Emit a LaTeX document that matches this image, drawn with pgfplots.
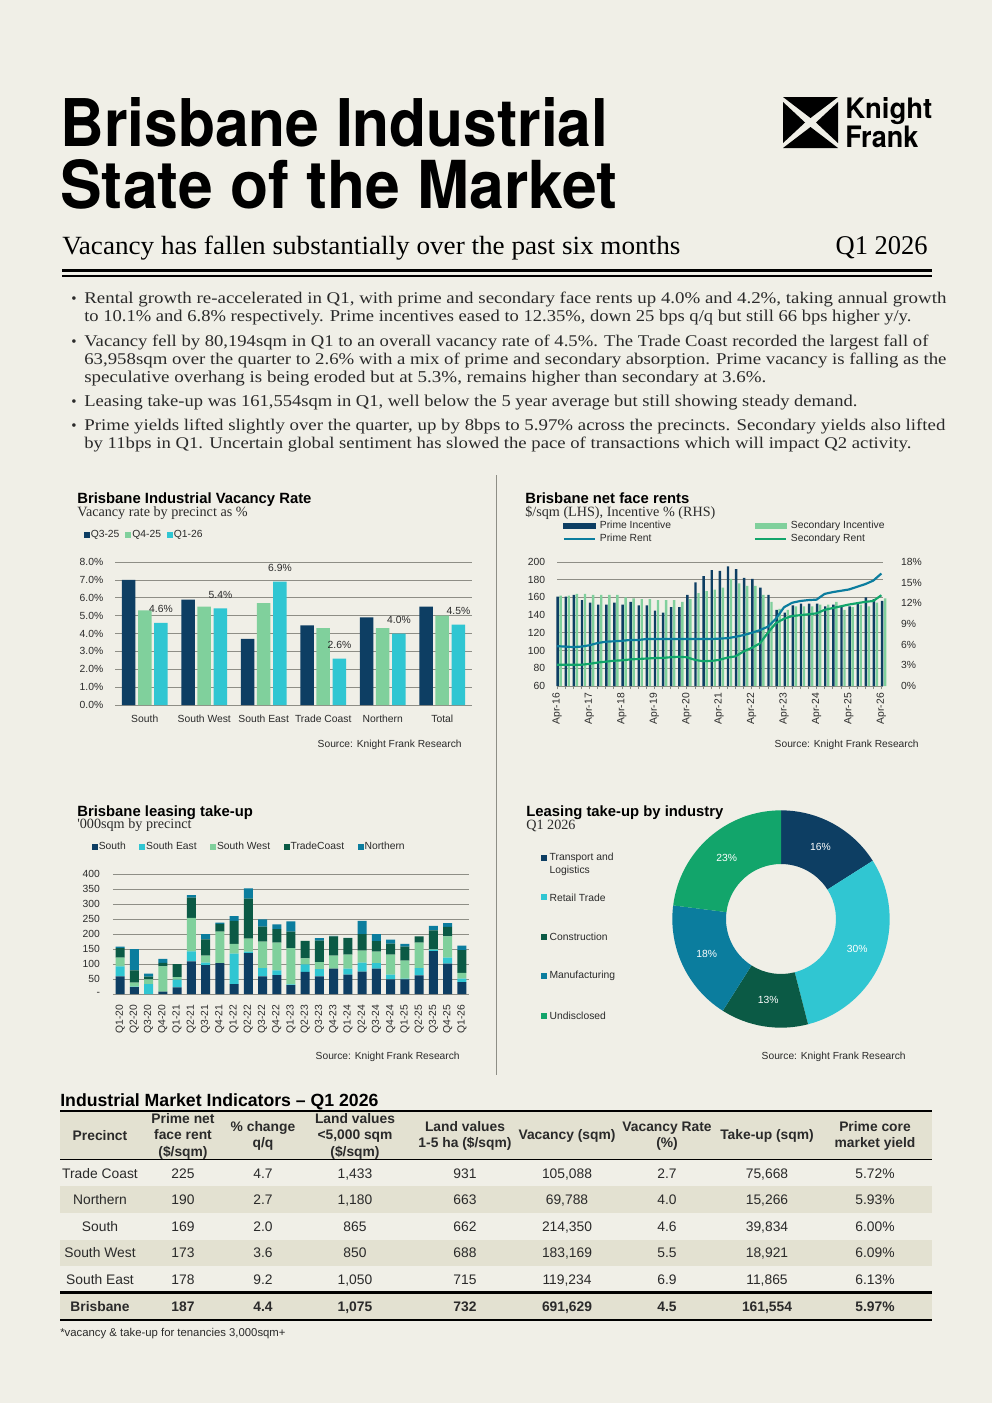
\documentclass[border=0pt]{standalone}
\usepackage{fontspec}
\setmainfont{Liberation Sans}
\newfontfamily\serif{Liberation Serif}
\newfontfamily\heros{TeX Gyre Heros}
\usepackage{graphicx}
\usepackage{pgfplots}
\usepackage{pgfplotstable}
\pgfplotsset{compat=1.18}

\definecolor{bg}{HTML}{F0EFE7}
\definecolor{navy}{HTML}{0D3E63}
\definecolor{lgreen}{HTML}{80D09C}
\definecolor{cyan2}{HTML}{30C6D2}
\definecolor{dgreen}{HTML}{0B5A45}
\definecolor{teal2}{HTML}{0B7D9E}
\definecolor{green2}{HTML}{12A56B}
\definecolor{gridc}{HTML}{8E8E86}
\definecolor{rowsh}{HTML}{E3E1D1}
\definecolor{txt}{HTML}{2A2A2A}

\newlength\pxu\setlength\pxu{0.6pt}
\newcommand\fitt[3]{\resizebox{#1\pxu}{#2\pxu}{#3}}
\newcommand\smallf{\fontsize{6.2}{7.4}\selectfont}
\newcommand\srcf{\fontsize{6.15}{7.4}\selectfont}
\newcommand\ctitle{\fontsize{8.9}{10.5}\selectfont\bfseries}
\newcommand\csub{\serif\fontsize{8.5}{10}\selectfont}
\newcommand\tabf{\fontsize{8.3}{9.9}\selectfont}
\newcommand\bodyf{\serif\fontsize{10}{12}\selectfont}

\pgfplotstableread{
q pi si pr sr
0 12.99 13.11 105 84
1 12.99 13.11 104.5 84
2 13.24 13.37 104 84
3 12.47 13.37 104.5 84
4 12.09 13.24 106 85
5 11.83 13.24 108.5 86.5
6 11.83 13.24 110 87.5
7 12.09 13.24 110.5 88.5
8 11.83 12.86 111 89
9 12.21 12.73 112 90
10 11.70 12.60 112 90.5
11 11.70 12.60 113 91
12 10.93 12.47 113 91.5
13 10.67 12.47 113 91.7
14 11.44 12.47 113 92.5
15 11.44 12.21 113 93
16 13.24 12.60 113 92.5
17 15.04 13.50 113 89.5
18 15.94 13.76 113 88
19 16.84 14.01 113 88.3
20 16.71 14.27 113.5 89.5
21 17.36 15.56 114 92
22 16.97 14.91 115.5 93.5
23 15.69 14.53 117.5 99
24 15.56 14.53 120 103
25 14.27 13.24 123 108
26 13.24 12.21 127 120
27 11.06 11.19 136 131
28 10.67 11.06 149 136
29 11.70 11.57 154 139
30 11.96 11.57 156 140
31 11.96 11.57 157 141
32 11.96 11.83 157.5 142
33 11.57 11.83 164 146
34 11.83 12.21 166 148
35 11.57 11.06 167.5 150
36 11.57 11.44 169 152
37 11.96 11.83 172 153.5
38 12.86 11.57 175 155
39 12.60 12.09 179 156
40 12.35 12.73 187 162.5
}\rents

\pgfplotstableread{
q S SE SW TC N
0 59 33 29 32 5
1 23 2 13 41 71
2 0 33 16 9 10
3 8 0 84 12 13
4 22 26 8 44 0
5 109 33 112 67 9
6 96 9 23 54 18
7 103 0 105 26 4
8 33 102 32 77 16
9 136 5 44 133 34
10 59 27 89 50 24
11 63 16 92 45 16
12 30 2 121 55 34
13 74 25 20 58 0
14 59 24 23 72 8
15 85 0 43 64 2
16 65 20 46 55 1
17 75 30 40 55 44
18 85 18 38 35 24
19 49 16 66 37 13
20 49 2 60 47 9
21 62 24 85 21 0
22 143 5 2 62 15
23 101 20 71 32 12
24 39.8 11.9 18.9 75.7 15.3
}\takeup

\pgfplotsset{
  kfbase/.style={
    scale only axis,
    axis line style={draw=none},
    xtick style={draw=none}, ytick style={draw=none},
    ticklabel style={font=\smallf, text=txt},
    /pgf/number format/assume math mode=true,
    grid style={gridc, line width=0.75\pxu},
    legend cell align=left,
    legend style={draw=none, fill=none, font=\smallf, text=txt, inner sep=0pt, outer sep=0pt,
      nodes={inner sep=0.6pt}},
  },
  sqleg/.style={legend image code/.code={\fill[##1, draw=none] (0pt,-1.7pt) rectangle (3.5pt,1.7pt);}},
}

\newcommand\seg[3]{\fill[#1] ([shift={({90-3.6*(#2)}:65.2pt)}]c) arc[start angle={90-3.6*(#2)}, end angle={90-3.6*(#2+#3)}, radius=65.2pt] -- ([shift={({90-3.6*(#2+#3)}:33pt)}]c) arc[start angle={90-3.6*(#2+#3)}, end angle={90-3.6*(#2)}, radius=33pt] -- cycle;}
\newcommand\seglab[3]{\node[text=white, font=\smallf] at ([shift={({90-3.6*(#1+#2/2)}:49.2pt)}]c) {#3};}

\def\ty{0}
\newcommand\trow[9]{%
  \node[anchor=base] at (100,\ty) {#1};
  \node[anchor=base] at (183,\ty) {#2};
  \node[anchor=base] at (263,\ty) {#3};
  \node[anchor=base] at (355,\ty) {#4};
  \node[anchor=base] at (465,\ty) {#5};
  \node[anchor=base] at (567,\ty) {#6};
  \node[anchor=base] at (667,\ty) {#7};
  \node[anchor=base] at (767,\ty) {#8};
  \node[anchor=base] at (875,\ty) {#9};}

\begin{document}
\begin{tikzpicture}
\useasboundingbox (0,0) rectangle (595.2pt,-841.8pt);
\fill[bg] (0,0) rectangle (595.2pt,-841.8pt);

% ---------------- Vacancy rate chart
\begin{axis}[kfbase, at={(69pt,-423pt)}, anchor=south west, width=214.2pt, height=85.8pt,
  ymin=0, ymax=8, ytick={0,...,8}, ymajorgrids,
  yticklabel={\pgfmathprintnumber[fixed,fixed zerofill,precision=1]{\tick}\%},
  xmin=-0.5, xmax=5.5, xtick={0,...,5},
  xticklabels={South,South West,South East,Trade Coast,Northern,Total},
  xticklabel shift=-2pt, yticklabel shift=3.5pt,
  ybar=1.62pt, bar width=8.1pt,
  legend columns=3,
  legend style={at={(-0.087,1.189)}, anchor=west,
    /tikz/every even column/.append style={column sep=3pt}},
]
\addplot[fill=navy, draw=none, sqleg] coordinates {(0,7.0) (1,5.9) (2,3.7) (3,4.45) (4,4.9) (5,5.5)};
\addlegendentry{Q3-25}
\addplot[fill=lgreen, draw=none, sqleg] coordinates {(0,5.3) (1,5.5) (2,5.7) (3,4.3) (4,4.3) (5,5.0)};
\addlegendentry{Q4-25}
\addplot[fill=cyan2, draw=none, sqleg, nodes near coords,
  nodes near coords style={font=\smallf, text=txt, yshift=2.5pt},
  point meta=explicit symbolic] coordinates {(0,4.6)[4.6\%] (1,5.4)[5.4\%] (2,6.9)[6.9\%] (3,2.6)[2.6\%] (4,4.0)[4.0\%] (5,4.5)[4.5\%]};
\addlegendentry{Q1-26}
\end{axis}

% ---------------- Net face rents: incentive bars (RHS)
\begin{axis}[kfbase, at={(334.2pt,-411.6pt)}, anchor=south west, width=195.6pt, height=74.4pt,
  clip=false,
  xmin=0, xmax=40.2, ymin=0, ymax=18,
  ytick={0,3,...,18}, yticklabel pos=right,
  yticklabel={\pgfmathprintnumber{\tick}\%}, yticklabel shift=5.5pt,
  extra y ticks={0,2.5714,5.1429,7.7143,10.2857,12.8571,15.4286,18},
  extra y tick labels={}, extra y tick style={grid=major, ytick style={draw=none}},
  xtick={0,4,...,40},
  xticklabels={Apr-16,Apr-17,Apr-18,Apr-19,Apr-20,Apr-21,Apr-22,Apr-23,Apr-24,Apr-25,Apr-26},
  minor xtick={0,...,40},
  xtick style={draw=gridc, line width=0.6\pxu}, minor x tick style={draw=gridc, line width=0.6\pxu},
  tick align=outside, xtick pos=left, major tick length=3\pxu, minor tick length=3\pxu,
  xticklabel style={rotate=90, anchor=east}, xticklabel shift=-1pt,
]
\addplot[ybar, fill=navy, draw=none, bar width=1.45pt, bar shift=0.4pt] table[x=q,y=pi]{\rents};
\addplot[ybar, fill=lgreen, draw=none, bar width=1.45pt, bar shift=2.2pt] table[x=q,y=si]{\rents};
\end{axis}

% ---------------- Net face rents: rent lines (LHS)
\begin{axis}[kfbase, at={(334.2pt,-411.6pt)}, anchor=south west, width=195.6pt, height=74.4pt,
  xmin=0, xmax=40.2, ymin=60, ymax=200,
  ytick={60,80,...,200}, yticklabel pos=left, yticklabel shift=3.6pt,
  xtick=\empty,
  legend columns=2,
  legend style={at={(0.0175,1.341)}, anchor=north west,
    /tikz/every odd column/.append style={column sep=1.6pt},
    /tikz/every even column/.append style={column sep=49pt},
    /tikz/row sep=0.7pt},
]
\addlegendimage{legend image code/.code={\fill[navy] (0pt,-1.5pt) rectangle (18.8pt,1.5pt);}}
\addlegendentry{Prime Incentive}
\addlegendimage{legend image code/.code={\fill[lgreen] (0pt,-1.5pt) rectangle (18.8pt,1.5pt);}}
\addlegendentry{Secondary Incentive}
\addplot[teal2, line width=1.3pt, line join=round,
  legend image code/.code={\draw[teal2, line width=1.3pt] (0pt,0pt) -- (18.8pt,0pt);}] table[x=q,y=pr]{\rents};
\addlegendentry{Prime Rent}
\addplot[green2, line width=1.3pt, line join=round,
  legend image code/.code={\draw[green2, line width=1.3pt] (0pt,0pt) -- (18.8pt,0pt);}] table[x=q,y=sr]{\rents};
\addlegendentry{Secondary Rent}
\end{axis}

% ---------------- Leasing take-up
\begin{axis}[kfbase, at={(67.8pt,-596.4pt)}, anchor=south west, width=213.6pt, height=72pt,
  ymin=0, ymax=400, ytick={0,50,...,400}, yticklabels={-,50,100,150,200,250,300,350,400},
  ymajorgrids, yticklabel shift=4.3pt,
  xmin=-0.5, xmax=24.5, xtick={0,...,24},
  xticklabels={Q1-20,Q2-20,Q3-20,Q4-20,Q1-21,Q2-21,Q3-21,Q4-21,Q1-22,Q2-22,Q3-22,Q4-22,Q1-23,Q2-23,Q3-23,Q4-23,Q1-24,Q2-24,Q3-24,Q4-24,Q1-25,Q2-25,Q3-25,Q4-25,Q1-26},
  xticklabel style={rotate=90, anchor=east}, xticklabel shift=3pt,
  ybar stacked, bar width=5.4pt,
  legend columns=5,
  legend style={at={(-0.059,1.2275)}, anchor=west,
    /tikz/every even column/.append style={column sep=7.5pt}},
]
\addplot[fill=navy, draw=none, sqleg] table[x=q,y=S]{\takeup};
\addlegendentry{South}
\addplot[fill=cyan2, draw=none, sqleg] table[x=q,y=SE]{\takeup};
\addlegendentry{South East}
\addplot[fill=lgreen, draw=none, sqleg] table[x=q,y=SW]{\takeup};
\addlegendentry{South West}
\addplot[fill=dgreen, draw=none, sqleg] table[x=q,y=TC]{\takeup};
\addlegendentry{TradeCoast}
\addplot[fill=teal2, draw=none, sqleg] table[x=q,y=N]{\takeup};
\addlegendentry{Northern}
\end{axis}

% ---------------- Donut
\begin{axis}[at={(468.6pt,-551.4pt)}, anchor=center, width=130.8pt, height=130.8pt,
  scale only axis, hide axis, xmin=-1, xmax=1, ymin=-1, ymax=1, clip=false]
\addplot[draw=none] coordinates {(0,0)};
\coordinate (c) at (axis cs:0,0);
\seg{navy}{0}{16}
\seg{cyan2}{16}{30}
\seg{dgreen}{46}{13}
\seg{teal2}{59}{18}
\seg{green2}{77}{23}
\seglab{0}{16}{16\%}
\seglab{16}{30}{30\%}
\seglab{46}{13}{13\%}
\seglab{59}{18}{18\%}
\seglab{77}{23}{23\%}
\end{axis}

\begin{scope}[x=0.6pt,y=-0.6pt]
% ---------- Header
\node[anchor=base west, inner sep=0] at (60,146) {\fitt{548}{49}{\heros\bfseries Brisbane Industrial}};
\node[anchor=base west, inner sep=0] at (60,208) {\fitt{557}{49}{\heros\bfseries State of the Market}};
\node[anchor=base west, inner sep=0] at (62,254) {\fitt{618}{18.5}{\serif Vacancy has fallen substantially over the past six months}};
\node[anchor=base east, inner sep=0] at (928,254) {\fitt{92}{18}{\serif Q1 2026}};
\draw[black, line width=2.6\pxu] (62,270.5) -- (932,270.5);
\draw[black, line width=2.2\pxu] (62,275.8) -- (932,275.8);
% logo
\fill[black] (783,97) -- (838,97) -- (810.5,118) -- cycle;
\fill[black] (783,148) -- (838,148) -- (810.5,127) -- cycle;
\fill[black] (783,102) -- (783,143) -- (805,122.5) -- cycle;
\fill[black] (838,102) -- (838,143) -- (816,122.5) -- cycle;
\node[anchor=base west, inner sep=0] at (845,118) {\fitt{87}{21}{\heros\bfseries Knight}};
\node[anchor=base west, inner sep=0] at (845,147) {\fitt{73}{21.5}{\heros\bfseries Frank}};

% ---------- Bullets
\foreach \yy in {303,346,406,430} {\node[anchor=base west, inner sep=0, text=txt] at (71,\yy) {\serif\fontsize{9}{10}\selectfont\textbullet};}
\node[anchor=base west, inner sep=0, text=txt] at (84,303) {\fitt{862}{11.5}{\bodyf Rental growth re-accelerated in Q1, with prime and secondary face rents up 4.0\% and 4.2\%, taking annual growth}};
\node[anchor=base west, inner sep=0, text=txt] at (84,321) {\fitt{827}{11.5}{\bodyf to 10.1\% and 6.8\% respectively. Prime incentives eased to 12.35\%, down 25 bps q/q but still 66 bps higher y/y.}};
\node[anchor=base west, inner sep=0, text=txt] at (84,346) {\fitt{844}{11.5}{\bodyf Vacancy fell by 80,194sqm in Q1 to an overall vacancy rate of 4.5\%. The Trade Coast recorded the largest fall of}};
\node[anchor=base west, inner sep=0, text=txt] at (84,364) {\fitt{862}{11.5}{\bodyf 63,958sqm over the quarter to 2.6\% with a mix of prime and secondary absorption. Prime vacancy is falling as the}};
\node[anchor=base west, inner sep=0, text=txt] at (84,382) {\fitt{682}{11.5}{\bodyf speculative overhang is being eroded but at 5.3\%, remains higher than secondary at 3.6\%.}};
\node[anchor=base west, inner sep=0, text=txt] at (84,406) {\fitt{773}{11.5}{\bodyf Leasing take-up was 161,554sqm in Q1, well below the 5 year average but still showing steady demand.}};
\node[anchor=base west, inner sep=0, text=txt] at (84,430) {\fitt{861}{11.5}{\bodyf Prime yields lifted slightly over the quarter, up by 8bps to 5.97\% across the precincts. Secondary yields also lifted}};
\node[anchor=base west, inner sep=0, text=txt] at (84,448) {\fitt{827}{11.5}{\bodyf by 11bps in Q1. Uncertain global sentiment has slowed the pace of transactions which will impact Q2 activity.}};

% ---------- Chart titles
\node[anchor=base west, inner sep=0] at (77,503) {\ctitle Brisbane Industrial Vacancy Rate};
\node[anchor=base west, inner sep=0, text=txt] at (77,516) {\csub Vacancy rate by precinct as \%};
\node[anchor=base west, inner sep=0] at (525,503) {\ctitle Brisbane net face rents};
\node[anchor=base west, inner sep=0, text=txt] at (525,516) {\csub \$/sqm (LHS), Incentive \% (RHS)};
\node[anchor=base west, inner sep=0] at (77,816) {\ctitle Brisbane leasing take-up};
\node[anchor=base west, inner sep=0, text=txt] at (77,828) {\csub '000sqm by precinct};
\node[anchor=base west, inner sep=0] at (526,816) {\ctitle Leasing take-up by industry};
\node[anchor=base west, inner sep=0, text=txt] at (526,829) {\csub Q1 2026};

\node[anchor=east, inner sep=0, font=\srcf, text=txt] at (462,745) {Source: Knight Frank Research};
\node[anchor=east, inner sep=0, font=\srcf, text=txt] at (919,745) {Source: Knight Frank Research};
\node[anchor=east, inner sep=0, font=\srcf, text=txt] at (460,1057) {Source: Knight Frank Research};
\node[anchor=east, inner sep=0, font=\srcf, text=txt] at (906,1057) {Source: Knight Frank Research};

\draw[gridc, line width=1\pxu] (496,475) -- (496,1075);

% donut legend
\foreach \yy/\cc/\lab in {858.3/navy/Transport and, 897.3/cyan2/Retail Trade, 937/dgreen/Construction, 976/teal2/Manufacturing, 1016/green2/Undisclosed} {
  \fill[\cc] (541,\yy-3) rectangle (547,\yy+3);
  \node[anchor=west, inner sep=0, font=\smallf, text=txt] at (549.3,\yy) {\lab};
}
\node[anchor=west, inner sep=0, font=\smallf, text=txt] at (549.3,871) {Logistics};

% ---------- Table
\node[anchor=base west, inner sep=0] at (60,1106) {\fontsize{10.6}{12}\selectfont\bfseries Industrial Market Indicators -- Q1 2026};
\fill[rowsh] (60,1111) rectangle (932,1159);
\fill[rowsh] (60,1186) rectangle (932,1213);
\fill[rowsh] (60,1239.5) rectangle (932,1266);
\fill[rowsh] (60,1293) rectangle (932,1319);
\draw[black, line width=1.5\pxu] (60,1111) -- (932,1111);
\draw[black, line width=1.2\pxu] (60,1159.5) -- (932,1159.5);
\draw[black, line width=2.6\pxu] (60,1292.5) -- (932,1292.5);
\draw[black, line width=2\pxu] (60,1319.5) -- (932,1319.5);
\begin{scope}[every node/.style={font=\tabf\bfseries, text=txt, align=center, inner sep=0}]
\node at (100,1135.5) {Precinct};
\node at (183,1136) {Prime net\\face rent\\(\$/sqm)};
\node at (263,1136) {\% change\\q/q};
\node at (355,1136) {Land values\\<5,000 sqm\\(\$/sqm)};
\node at (465,1136) {Land values\\1-5 ha (\$/sqm)};
\node at (567,1136) {Vacancy (sqm)};
\node at (667,1136) {Vacancy Rate\\(\%)};
\node at (767,1136) {Take-up (sqm)};
\node at (875,1136) {Prime core\\market yield};
\end{scope}
\begin{scope}[every node/.style={font=\tabf, text=txt, inner sep=0}]
\def\ty{1178}\trow{Trade Coast}{225}{4.7}{1,433}{931}{105,088}{2.7}{75,668}{5.72\%}
\def\ty{1204.5}\trow{Northern}{190}{2.7}{1,180}{663}{69,788}{4.0}{15,266}{5.93\%}
\def\ty{1231}\trow{South}{169}{2.0}{865}{662}{214,350}{4.6}{39,834}{6.00\%}
\def\ty{1257.5}\trow{South West}{173}{3.6}{850}{688}{183,169}{5.5}{18,921}{6.09\%}
\def\ty{1284}\trow{South East}{178}{9.2}{1,050}{715}{119,234}{6.9}{11,865}{6.13\%}
\end{scope}
\begin{scope}[every node/.style={font=\tabf\bfseries, text=txt, inner sep=0}]
\def\ty{1311}\trow{Brisbane}{187}{4.4}{1,075}{732}{691,629}{4.5}{161,554}{5.97\%}
\end{scope}
\node[anchor=base west, inner sep=0, font=\fontsize{6.8}{8}\selectfont, text=txt] at (60,1336) {*vacancy \& take-up for tenancies 3,000sqm+};
\end{scope}
\end{tikzpicture}
\end{document}
